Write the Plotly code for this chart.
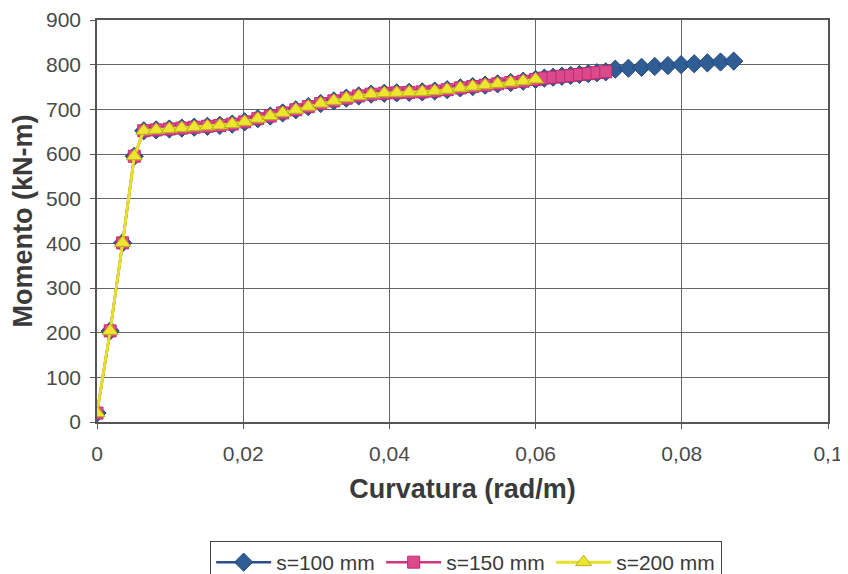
import plotly.graph_objects as go

# Shared part of the moment-curvature curves (elastic branch + plateau up to 0.06)
curv_common = [0.0, 0.0018, 0.0035, 0.0051,
               0.0064, 0.0081, 0.0099, 0.0116, 0.0133, 0.0151, 0.0168, 0.0185,
               0.0202, 0.0220, 0.0237, 0.0254, 0.0272, 0.0289, 0.0306, 0.0324,
               0.0341, 0.0358, 0.0375, 0.0393, 0.0410, 0.0427, 0.0445, 0.0462,
               0.0479, 0.0497, 0.0514, 0.0531, 0.0548, 0.0566, 0.0583, 0.0600]
mom_common = [20, 204, 401, 595,
              652, 654, 656, 658, 660, 662, 664, 667,
              672, 679, 685, 692, 699, 706, 713, 719,
              725, 730, 734, 736, 737, 738, 739, 741,
              744, 748, 751, 754, 757, 760, 763, 767]

# Extension of s=150 mm beyond 0.06
curv_150_ext = [0.0612, 0.0624, 0.0636, 0.0648, 0.0660, 0.0672, 0.0684, 0.0696]
mom_150_ext = [770, 772, 774, 776, 778, 780, 782, 784]

# Extension of s=100 mm beyond 0.07
curv_100_ext = [0.0709, 0.0727, 0.0745, 0.0763, 0.0781, 0.0799, 0.0817, 0.0835, 0.0853, 0.0871]
mom_100_ext = [790, 792, 794, 796, 798, 800, 802, 804, 806, 808]

series_names = ["s=100 mm", "s=150 mm", "s=200 mm"]

x_tickvals = [0, 0.02, 0.04, 0.06, 0.08, 0.1]
x_ticktext = ["0", "0,02", "0,04", "0,06", "0,08", "0,1"]
y_tickvals = [0, 100, 200, 300, 400, 500, 600, 700, 800, 900]

curv_100 = curv_common + curv_150_ext + curv_100_ext
mom_100 = mom_common + mom_150_ext + mom_100_ext
curv_150 = curv_common + curv_150_ext
mom_150 = mom_common + mom_150_ext
curv_200 = curv_common
mom_200 = mom_common

fig = go.Figure()
fig.add_trace(go.Scatter(
    x=curv_100, y=mom_100, name=series_names[0], mode="lines+markers",
    line=dict(color="#2B4F8C", width=2.5),
    marker=dict(symbol="diamond", size=14, color="#2F5E95",
                line=dict(color="#24457A", width=1))))
fig.add_trace(go.Scatter(
    x=curv_150, y=mom_150, name=series_names[1], mode="lines+markers",
    line=dict(color="#D4337F", width=2.5),
    marker=dict(symbol="square", size=12, color="#DC4A8E",
                line=dict(color="#C02A72", width=1))))
fig.add_trace(go.Scatter(
    x=curv_200, y=mom_200, name=series_names[2], mode="lines+markers",
    line=dict(color="#E6E02C", width=3),
    marker=dict(symbol="triangle-up", size=14, color="#EDE52E",
                line=dict(color="#B8B020", width=1))))

axis_font = dict(family="Liberation Sans, Arial, sans-serif", size=21, color="#4a4a4a")
title_font = dict(family="Liberation Sans, Arial, sans-serif", size=27, color="#3a3a3a")

# page body has an 8px margin, so the figure is 840x566 placed at (8, 8)
fig.update_layout(
    width=840, height=566,
    margin=dict(l=89, r=20, t=12, b=152, autoexpand=False),
    paper_bgcolor="white", plot_bgcolor="white",
    separators=",.",
    showlegend=True,
    legend=dict(orientation="h", x=0.505, xanchor="center", y=-0.296, yanchor="top",
                font=dict(family="Liberation Sans, Arial, sans-serif", size=21, color="#3a3a3a"),
                bordercolor="#444", borderwidth=1, bgcolor="white",
                itemwidth=55, entrywidth=100, entrywidthmode="pixels", tracegroupgap=0),
    xaxis=dict(range=[0, 0.1], tickvals=x_tickvals, ticktext=x_ticktext,
               showgrid=True, gridcolor="#666", gridwidth=1,
               showline=True, linecolor="#555", linewidth=1.5, mirror=True,
               ticks="outside", ticklen=5, tickcolor="#555",
               ticklabelstandoff=7,
               tickfont=axis_font, zeroline=False, automargin=False,
               title=dict(text="<b>Curvatura (rad/m)</b>", font=title_font, standoff=15)),
    yaxis=dict(range=[0, 900], tickvals=y_tickvals,
               showgrid=True, gridcolor="#666", gridwidth=1,
               showline=True, linecolor="#555", linewidth=1.5, mirror=True,
               ticks="outside", ticklen=5, tickcolor="#555",
               ticklabelstandoff=5,
               tickfont=axis_font, zeroline=False, automargin=False,
               title=dict(text="<b>Momento (kN-m)</b>", font=title_font, standoff=6)),
)

fig.write_html("out.html")
